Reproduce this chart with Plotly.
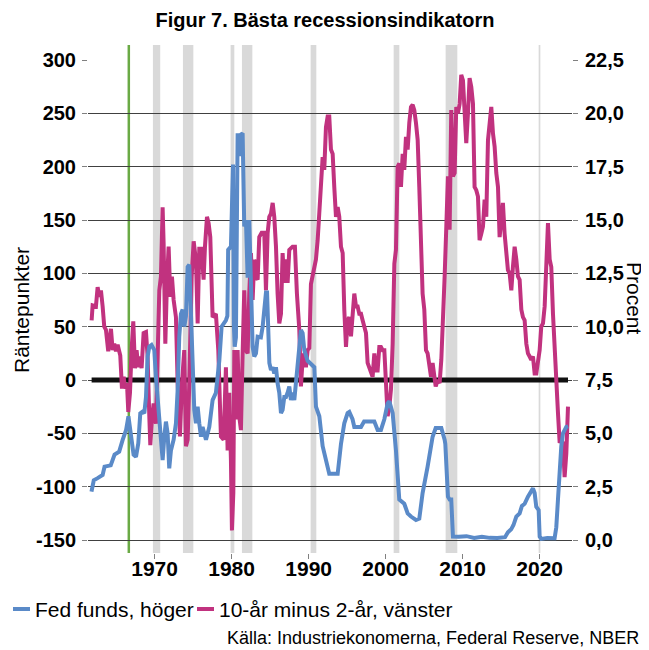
import plotly.graph_objects as go

# ---------------- data ----------------
title_text = "Figur 7. Bästa recessionsindikatorn"
left_title = "Räntepunkter"
right_title = "Procent"
source_text = "Källa: Industriekonomerna, Federal Reserve, NBER"
fed_name = "Fed funds, höger"
spread_name = "10-år minus 2-år, vänster"

fed_years = [1961.8, 1962.1, 1962.6, 1963.25, 1963.5, 1964.3, 1964.8, 1965.4, 1965.85, 1966.3,
             1966.6, 1966.93, 1967.27, 1967.58, 1967.88, 1968.14, 1968.44, 1968.66, 1968.88, 1969.09,
             1969.31, 1969.6, 1969.96, 1970.17, 1970.48, 1970.82, 1971.04, 1971.26, 1971.47, 1971.69,
             1971.9, 1972.12, 1972.47, 1972.77, 1972.99, 1973.2, 1973.42, 1973.64, 1973.85, 1974.07,
             1974.29, 1974.5, 1974.72, 1974.94, 1975.15, 1975.37, 1975.59, 1975.8, 1976.02, 1976.23,
             1976.67, 1977.1, 1977.53, 1977.96, 1978.4, 1978.7, 1979.26, 1979.45, 1979.55, 1979.91,
             1980.13, 1980.18, 1980.3, 1980.4, 1980.56, 1980.65, 1980.78, 1981.0, 1981.2, 1981.43,
             1981.55, 1981.64, 1981.86, 1982.08, 1982.29, 1982.5, 1982.73, 1982.94, 1983.16, 1983.38,
             1983.8, 1984.03, 1984.24, 1984.46, 1984.6, 1984.9, 1985.11, 1985.33, 1985.54, 1985.76,
             1985.97, 1986.19, 1986.41, 1986.62, 1986.84, 1987.06, 1987.27, 1987.49, 1987.7, 1987.92,
             1988.14, 1988.35, 1988.57, 1989.0, 1989.22, 1989.44, 1989.87, 1990.3, 1990.74, 1990.95,
             1991.39, 1991.82, 1992.25, 1992.68, 1993.77, 1994.2, 1994.63, 1995.06, 1995.28, 1995.7,
             1995.93, 1996.8, 1997.2, 1998.53, 1998.96, 1999.39, 1999.83, 2000.26, 2000.48, 2000.91,
             2001.34, 2001.77, 2002.42, 2002.86, 2003.29, 2003.94, 2004.37, 2004.8, 2005.45, 2006.1,
             2006.5, 2007.23, 2007.66, 2007.75, 2008.09, 2008.31, 2008.52, 2008.74, 2009.5, 2010.5,
             2011.5, 2012.5, 2013.5, 2014.5, 2015.5, 2015.88, 2016.3, 2016.6, 2016.97, 2017.4,
             2017.7, 2018.05, 2018.48, 2018.91, 2019.13, 2019.35, 2019.56, 2019.87, 2020.0, 2020.21,
             2021.0, 2021.94, 2022.16, 2022.38, 2022.6, 2022.81, 2023.03, 2023.46, 2023.7]
fed_rate = [2.27, 2.8, 2.9, 3.05, 3.44, 3.5, 4.0, 4.14, 4.69, 5.16,
            5.8, 4.84, 4.0, 3.9, 4.53, 5.94, 6.02, 5.94, 6.7, 8.6,
            9.06, 9.14, 8.9, 7.65, 6.4, 4.7, 3.75, 4.84, 5.55, 5.0,
            3.36, 4.2, 4.7, 5.47, 7.03, 9.53, 10.6, 10.8, 10.0, 10.5,
            12.8, 12.9, 10.5, 8.3, 6.1, 5.47, 6.25, 5.47, 4.84, 5.3,
            4.7, 5.3, 6.56, 6.9, 8.4, 10.0, 10.3, 10.5, 13.6, 13.75,
            17.5, 17.6, 10.0, 9.06, 9.5, 14.7, 19.06, 18.0, 19.0, 19.06,
            17.0, 14.7, 15.0, 12.3, 15.0, 11.6, 9.06, 8.6, 8.75, 9.53,
            9.5, 10.0, 10.8, 11.6, 11.6, 8.3, 7.97, 8.1, 7.8, 8.1,
            7.34, 6.9, 5.95, 6.1, 6.7, 6.7, 6.9, 7.2, 6.56, 6.9,
            6.56, 7.5, 8.3, 9.84, 9.7, 8.9, 8.4, 8.28, 8.1, 6.25,
            5.8, 4.4, 3.75, 3.1, 3.1, 4.5, 5.47, 5.95, 6.0, 5.66,
            5.3, 5.3, 5.55, 5.55, 5.16, 5.16, 5.66, 6.4, 6.5, 5.95,
            4.2, 1.9, 1.7, 1.25, 1.1, 0.94, 1.0, 2.2, 3.44, 4.84,
            5.25, 5.25, 4.7, 4.5, 2.03, 1.9, 1.9, 0.16, 0.15, 0.18,
            0.1, 0.15, 0.1, 0.09, 0.13, 0.36, 0.5, 0.7, 1.1, 1.25,
            1.6, 1.7, 2.03, 2.34, 2.42, 2.2, 1.56, 1.4, 0.16, 0.05,
            0.09, 0.08, 0.6, 1.9, 3.28, 4.4, 5.0, 5.3, 5.33]

spread_years = [1961.82, 1961.95, 1962.38, 1962.6, 1962.82, 1963.03, 1963.25, 1963.46, 1963.68, 1963.98,
                1964.33, 1964.55, 1964.76, 1964.98, 1965.2, 1965.54, 1965.76, 1965.98, 1966.15, 1966.41,
                1966.58, 1966.8, 1967.01, 1967.23, 1967.45, 1967.66, 1967.88, 1968.1, 1968.31, 1968.57,
                1968.88, 1969.09, 1969.31, 1969.44, 1969.65, 1969.87, 1970.17, 1970.39, 1970.61, 1970.82,
                1971.04, 1971.17, 1971.39, 1971.6, 1971.82, 1972.04, 1972.25, 1972.47, 1972.77, 1972.99,
                1973.29, 1973.55, 1973.85, 1974.07, 1974.29, 1974.5, 1974.81, 1975.07, 1975.37, 1975.59,
                1975.8, 1976.1, 1976.36, 1976.54, 1976.8, 1977.01, 1977.23, 1977.53, 1977.96, 1978.27,
                1978.61, 1978.96, 1979.26, 1979.48, 1979.7, 1979.91, 1980.04, 1980.22, 1980.35, 1980.56,
                1980.78, 1980.99, 1981.21, 1981.43, 1981.64, 1981.86, 1982.08, 1982.29, 1982.51, 1982.73,
                1982.94, 1983.16, 1983.38, 1983.59, 1983.9, 1984.24, 1984.46, 1984.68, 1984.89, 1985.11,
                1985.33, 1985.54, 1985.76, 1985.97, 1986.19, 1986.41, 1986.62, 1986.84, 1987.06, 1987.27,
                1987.49, 1987.92, 1988.22, 1988.48, 1988.79, 1989.0, 1989.22, 1989.44, 1989.65, 1989.87,
                1990.09, 1990.3, 1990.52, 1990.74, 1990.95, 1991.17, 1991.39, 1991.6, 1991.82, 1992.03,
                1992.25, 1992.47, 1992.68, 1992.9, 1993.12, 1993.33, 1993.55, 1993.77, 1993.98, 1994.2,
                1994.42, 1994.63, 1994.85, 1995.06, 1995.28, 1995.5, 1995.71, 1995.93, 1996.15, 1996.36,
                1996.58, 1996.8, 1997.01, 1997.23, 1997.45, 1997.66, 1997.88, 1998.1, 1998.31, 1998.53,
                1998.74, 1998.96, 1999.18, 1999.39, 1999.61, 1999.83, 2000.04, 2000.26, 2000.48, 2000.69,
                2000.91, 2001.13, 2001.34, 2001.56, 2001.77, 2001.99, 2002.21, 2002.42, 2002.64, 2002.86,
                2003.07, 2003.29, 2003.51, 2003.72, 2003.94, 2004.16, 2004.37, 2004.59, 2004.8, 2005.02,
                2005.24, 2005.45, 2005.67, 2005.89, 2006.1, 2006.3, 2006.5, 2006.79, 2007.01, 2007.23,
                2007.44, 2007.66, 2007.88, 2008.09, 2008.31, 2008.52, 2008.74, 2008.96, 2009.17, 2009.39,
                2009.61, 2009.82, 2010.04, 2010.26, 2010.47, 2010.69, 2010.9, 2011.12, 2011.34, 2011.55,
                2011.77, 2011.99, 2012.2, 2012.42, 2012.64, 2012.85, 2013.07, 2013.29, 2013.5, 2013.72,
                2013.94, 2014.15, 2014.37, 2014.59, 2014.8, 2015.02, 2015.23, 2015.45, 2015.67, 2015.88,
                2016.1, 2016.32, 2016.53, 2016.75, 2016.97, 2017.18, 2017.4, 2017.62, 2017.83, 2018.05,
                2018.27, 2018.48, 2018.7, 2018.91, 2019.13, 2019.35, 2019.56, 2019.78, 2020.0, 2020.21,
                2020.43, 2020.65, 2020.86, 2021.08, 2021.3, 2021.51, 2021.73, 2021.94, 2022.16, 2022.38,
                2022.6, 2022.81, 2023.03, 2023.24, 2023.46, 2023.68]
spread_bp = [56, 70, 69, 87, 78, 84, 69, 50, 47, 27,
             48, 28, 34, 27, 33, 23, -8, 3, -8, -3,
             -30, -12, 28, 55, 11, 28, 12, 22, 11, 44,
             45, 22, -34, -61, -37, -22, -41, 22, 84, 97,
             162, 128, 34, 91, 125, 78, 97, 75, 59, -3,
             -53, -3, 28, -62, -56, -3, 97, 130, 112, 53,
             123, 123, 94, 125, 153, 147, 134, 59, 62, 28,
             -53, -56, 12, -66, -12, -75, -141, -106, 28, -37,
             28, -34, -47, 25, 84, 28, 25, 81, 119, 75,
             113, 97, 94, 134, 138, 138, 84, 138, 153, 156,
             166, 153, 125, 81, 53, 62, 119, 91, 113, 91,
             122, 125, 125, 81, 47, -6, 19, 25, 12, 28,
             30, 90, 97, 106, 113, 131, 153, 184, 209, 197,
             237, 247, 247, 216, 212, 181, 153, 162, 153, 125,
             119, 66, 31, 56, 59, 41, 56, 81, 69, 69,
             62, 62, 56, 50, 44, 16, 12, 6, 3, 25,
             9, 9, 31, 31, 28, 28, -12, -34, -25, -9,
             34, 109, 122, 200, 203, 181, 212, 197, 228, 216,
             241, 256, 258, 253, 241, 225, 181, 134, 81, 66,
             28, 25, 16, 3, 16, 0, -6, 0, -3, 19,
             50, 97, 144, 191, 141, 253, 191, 194, 256, 250,
             259, 286, 281, 253, 222, 250, 283, 275, 259, 181,
             178, 172, 131, 137, 144, 169, 153, 225, 241, 256,
             231, 219, 194, 181, 134, 156, 166, 137, 116, 103,
             100, 84, 106, 125, 113, 97, 94, 66, 59, 56,
             34, 25, 22, 19, 22, 6, 6, 19, 28, 50,
             53, 69, 113, 147, 113, 106, 62, 25, 0, -31,
             -59, -56, -59, -91, -69, -25]

recession_start = [1969.78, 1973.68, 1979.87, 1981.34, 1990.26, 2001.04, 2007.79, 2019.87]
recession_end = [1970.73, 1975.03, 1980.35, 1982.69, 1991.0, 2001.78, 2009.31, 2020.09]
marker_year = 1966.65

left_ticks = [-150, -100, -50, 0, 50, 100, 150, 200, 250, 300]
left_tick_labels = ["-150", "-100", "-50", "0", "50", "100", "150", "200", "250", "300"]
right_ticks = [0, 2.5, 5, 7.5, 10, 12.5, 15, 17.5, 20, 22.5]
right_tick_labels = ["0,0", "2,5", "5,0", "7,5", "10,0", "12,5", "15,0", "17,5", "20,0", "22,5"]
x_ticks = [1970, 1980, 1990, 2000, 2010, 2020]
x_tick_labels = ["1970", "1980", "1990", "2000", "2010", "2020"]

# ---------------- style ----------------
FONT = "Liberation Sans, Arial, sans-serif"
BLUE = "#5A8AC8"
MAGENTA = "#C1327F"
GREEN = "#6AAA45"
GREY = "#D9D9D9"

PAGE_OFF = 8  # default body margin of the html page
W, H = 641, 642
L_M, R_M, T_M, B_M = 80, 77, 52, 97
plot_w = W - L_M - R_M
plot_h = H - T_M - B_M


def px_x(p):
    """page pixel x -> paper coordinate"""
    return (p - PAGE_OFF - L_M) / plot_w


def px_y(p):
    """page pixel y -> paper coordinate"""
    return (H - B_M - (p - PAGE_OFF)) / plot_h


fig = go.Figure()

# zero line
fig.add_trace(go.Scatter(
    x=[spread_years[0], spread_years[-1]], y=[0, 0], mode="lines",
    line=dict(color="#111111", width=5), showlegend=False, hoverinfo="skip", yaxis="y"))

fig.add_trace(go.Scatter(
    x=spread_years, y=spread_bp, name=spread_name, mode="lines",
    line=dict(color=MAGENTA, width=4), yaxis="y", showlegend=False))

fig.add_trace(go.Scatter(
    x=fed_years, y=fed_rate, name=fed_name, mode="lines",
    line=dict(color=BLUE, width=4), yaxis="y2", showlegend=False))

shapes = []
for s, e in zip(recession_start, recession_end):
    shapes.append(dict(type="rect", xref="x", yref="paper", x0=s, x1=e, y0=0, y1=px_y(45),
                       fillcolor=GREY, line=dict(width=0), layer="below"))
shapes.append(dict(type="line", xref="x", yref="paper", x0=marker_year, x1=marker_year,
                   y0=0, y1=px_y(45), line=dict(color=GREEN, width=2.5), layer="below"))

# legend (built by hand to match the short line samples)
legend_items = [(fed_name, BLUE, 13, 30, 33), (spread_name, MAGENTA, 197, 214, 217)]
legend_y = 609
annotations = []
for name, col, s0, s1, tx in legend_items:
    shapes.append(dict(type="line", xref="paper", yref="paper", x0=px_x(s0), x1=px_x(s1),
                       y0=px_y(legend_y), y1=px_y(legend_y), line=dict(color=col, width=4)))
    annotations.append(dict(text=name, xref="paper", yref="paper", x=px_x(tx), y=px_y(legend_y),
                            xanchor="left", yanchor="middle", showarrow=False,
                            font=dict(family=FONT, size=21, color="#000000")))

annotations += [
    dict(text=left_title, xref="paper", yref="paper", x=px_x(21), y=px_y(310),
         xanchor="center", yanchor="middle", textangle=-90, showarrow=False,
         font=dict(family=FONT, size=21, color="#000000")),
    dict(text=right_title, xref="paper", yref="paper", x=px_x(635), y=px_y(298),
         xanchor="center", yanchor="middle", textangle=90, showarrow=False,
         font=dict(family=FONT, size=21, color="#000000")),
    dict(text=source_text, xref="paper", yref="paper", x=px_x(641), y=px_y(638),
         xanchor="right", yanchor="middle", showarrow=False,
         font=dict(family=FONT, size=18, color="#000000")),
]

tickfont = dict(family=FONT, size=20, color="#000000", weight="bold")

fig.update_layout(
    width=W, height=H,
    margin=dict(l=L_M, r=R_M, t=T_M, b=B_M, autoexpand=False),
    paper_bgcolor="white", plot_bgcolor="white",
    font=dict(family=FONT, color="#000000"),
    title=dict(text=title_text, x=(325 - PAGE_OFF) / W, xref="container", xanchor="center",
               y=1 - (20 - PAGE_OFF) / H, yref="container", yanchor="middle",
               font=dict(family=FONT, size=20, color="#000000", weight="bold")),
    showlegend=False,
    xaxis=dict(range=[1961.35, 2024.2], tickvals=x_ticks, ticktext=x_tick_labels,
               showgrid=False, zeroline=False, showline=False,
               ticks="outside", ticklen=5, tickcolor="#808080",
               tickfont=dict(family=FONT, size=21, color="#000000", weight="bold"),
               ticklabelstandoff=-8),
    yaxis=dict(range=[-162.19, 300], tickvals=left_ticks, ticktext=left_tick_labels,
               showgrid=True, gridcolor="#404040", gridwidth=1, zeroline=False, showline=False,
               ticks="outside", ticklen=5, tickcolor="#808080", tickfont=tickfont,
               ticklabelstandoff=2),
    yaxis2=dict(range=[-0.609, 22.5], tickvals=right_ticks, ticktext=right_tick_labels,
                overlaying="y", side="right", showgrid=False, zeroline=False, showline=False,
                ticks="outside", ticklen=5, tickcolor="#808080", tickfont=tickfont,
                ticklabelstandoff=3),
    shapes=shapes,
    annotations=annotations,
)

fig.write_html("out.html")
